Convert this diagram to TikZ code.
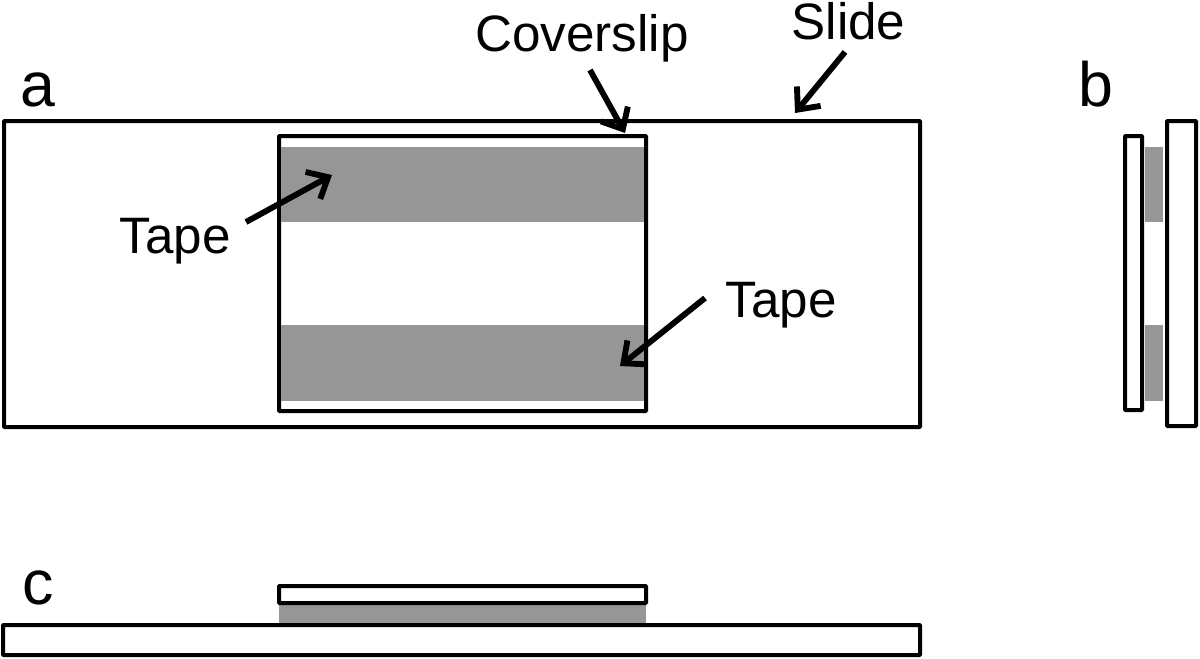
\documentclass[tikz,border=0pt]{standalone}
\usepackage{fontspec}
\setmainfont{Liberation Sans}
\usetikzlibrary{arrows.meta}
\tikzset{
  box/.style={draw=black,line width=3pt,fill=white,rounded corners=0.6pt},
  lbl/.style={font=\fontsize{38.4}{40}\selectfont,inner sep=0pt,text=black},
  panel/.style={font=\fontsize{47}{50}\selectfont,inner sep=0pt,text=black},
  arr/.style={line width=4.4pt,-{Straight Barb[length=13pt,width=23pt,line width=4.4pt]}}
}
\definecolor{tapegray}{HTML}{969696}
\begin{document}
\begin{tikzpicture}[x=0.75pt,y=-0.75pt]
\useasboundingbox (0,0) rectangle (1200,658);
\fill[white] (0,0) rectangle (1200,658);
% panel a
\node[box,anchor=north west,minimum width=687pt,minimum height=229.5pt,outer sep=0pt,inner sep=0pt] (slideA) at (4,121) {};
\node[box,anchor=north west,minimum width=275.25pt,minimum height=206.25pt,outer sep=0pt,inner sep=0pt] (slipA) at (279,136) {};
\fill[tapegray] (281,147) rectangle (644,222);
\fill[tapegray] (281,325) rectangle (644,401);
% panel b
\node[box,anchor=north west,minimum width=12.75pt,minimum height=205.5pt,outer sep=0pt,inner sep=0pt] (slipB) at (1125,136) {};
\node[box,anchor=north west,minimum width=21.75pt,minimum height=228.75pt,outer sep=0pt,inner sep=0pt] (slideB) at (1167,121) {};
\fill[tapegray] (1145,147) rectangle (1163,222);
\fill[tapegray] (1145,325) rectangle (1163,401);
% panel c
\fill[tapegray] (279,603) rectangle (646,625);
\node[box,anchor=north west,minimum width=275.25pt,minimum height=12.75pt,outer sep=0pt,inner sep=0pt] (slipC) at (279,586) {};
\node[box,anchor=north west,minimum width=687.75pt,minimum height=22.5pt,outer sep=0pt,inner sep=0pt] (slideC) at (3,625) {};
% labels
\node[panel,anchor=base] (pa) at (38,106.5) {a};
\node[panel,anchor=base] (pb) at (1095.5,106.5) {b};
\node[panel,anchor=base] (pc) at (38,604.5) {c};
\node[lbl] (lcover) at (582,38) {Coverslip};
\node[lbl] (lslide) at (848.5,21) {Slide};
\node[lbl] (ltapeA) at (175,241) {Tape};
\node[lbl] (ltapeB) at (781,305) {Tape};
% arrow ends
\coordinate (cs1) at (590,70);
\coordinate (ce1) at (625,133);
\coordinate (cs2) at (845,52);
\coordinate (ce2) at (795,113);
\coordinate (cs3) at (246,222);
\coordinate (ce3) at (332,175);
\coordinate (cs4) at (705,298);
\coordinate (ce4) at (620,366);
\draw[arr] (cs1) -- (ce1);
\draw[arr] (cs2) -- (ce2);
\draw[arr] (cs3) -- (ce3);
\draw[arr] (cs4) -- (ce4);
\end{tikzpicture}
\end{document}
